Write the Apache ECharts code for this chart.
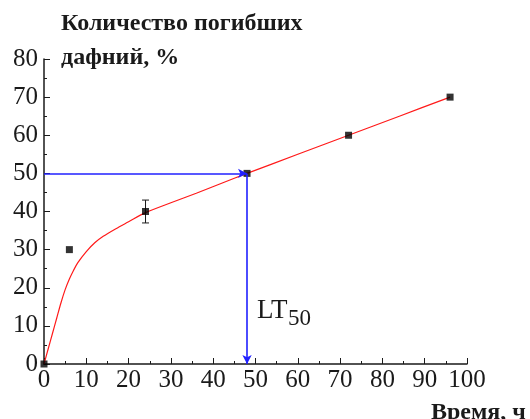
<!DOCTYPE html>
<html>
<head>
<meta charset="utf-8">
<script src="https://cdn.jsdelivr.net/npm/echarts@6/dist/echarts.min.js"></script>
<style>
  html, body { margin: 0; padding: 0; background: #fff; }
  #chart { width: 530px; height: 419px; }
</style>
</head>
<body>
<div id="chart"></div>
<script>
// Observed daphnia mortality over time
const hours = [0, 6, 24, 48, 72, 96];
const mortality = [0, 30, 40, 50, 60, 70];
const mortalityErr = [0, 0, 3, 0, 0, 0];

// Fitted curve
const fitHours =     [0, 1, 2, 3,  4,  5,    6,    7,    8,    10,   12,   14,   17,   20,   24,   30,   36,   42,   48, 60, 72, 84, 96];
const fitMortality = [0, 4, 8, 12, 16, 19.5, 22.3, 24.6, 26.6, 29.5, 31.8, 33.5, 35.5, 37.3, 39.7, 42.3, 44.8, 47.4, 50, 55, 60, 65, 70];

// LT50 read-off point
const lt50Hours = 48;
const lt50Level = 50;

const FONT = 'Liberation Serif';
const INK = '#1a1a1a';

const chart = echarts.init(document.getElementById('chart'), null, { renderer: 'canvas' });

const points = hours.map((h, i) => [h, mortality[i]]);
const errRows = hours.map((h, i) => [h, mortality[i], mortalityErr[i]]).filter(r => r[2] > 0);
const fit = fitHours.map((h, i) => [h, fitMortality[i]]);

const axisCommon = {
  axisLine: { show: true, onZero: false, lineStyle: { color: INK, width: 1.5 } },
  axisTick: { show: true, inside: true, length: 6, lineStyle: { color: INK, width: 1 } },
  minorTick: { show: true, splitNumber: 2, length: 3, lineStyle: { color: INK, width: 1 } },
  splitLine: { show: false },
  axisLabel: { color: INK, fontFamily: FONT, fontSize: 25 }
};

chart.setOption({
  animation: false,
  backgroundColor: '#fff',
  textStyle: { fontFamily: FONT },
  grid: { left: 44, right: 63, top: 59, bottom: 55, containLabel: false },
  xAxis: Object.assign({}, axisCommon, {
    type: 'value', min: 0, max: 100, interval: 10,
    axisLabel: Object.assign({}, axisCommon.axisLabel, { margin: 4 })
  }),
  yAxis: Object.assign({}, axisCommon, {
    type: 'value', min: 0, max: 80, interval: 10,
    axisLabel: Object.assign({}, axisCommon.axisLabel, { margin: 6 })
  }),
  graphic: [
    {
      type: 'text', left: 61, top: 7, silent: true,
      style: {
        text: 'Количество погибших\nдафний, %',
        fontFamily: FONT, fontWeight: 'bold', fontSize: 24,
        fill: INK, lineHeight: 34
      }
    },
    {
      type: 'text', left: 431, top: 401, silent: true,
      style: { text: 'Время, ч', fontFamily: FONT, fontWeight: 'bold', fontSize: 24, fill: INK }
    },
    {
      type: 'text', left: 257, top: 297, silent: true,
      style: { text: 'LT', fontFamily: FONT, fontSize: 27, fill: INK }
    },
    {
      type: 'text', left: 288, top: 307, silent: true,
      style: { text: '50', fontFamily: FONT, fontSize: 23, fill: INK }
    }
  ],
  series: [
    {
      name: 'fit',
      type: 'line',
      data: fit,
      smooth: 0.3,
      showSymbol: false,
      lineStyle: { color: '#ff1a1a', width: 1.2 },
      z: 2,
      markLine: {
        silent: true,
        symbol: ['none', 'arrow'],
        symbolSize: [7, 9],
        label: { show: false },
        lineStyle: { color: '#2020ff', width: 1.6, type: 'solid' },
        data: [
          [{ coord: [0, lt50Level] }, { coord: [lt50Hours, lt50Level] }],
          [{ coord: [lt50Hours, lt50Level] }, { coord: [lt50Hours, 0] }]
        ]
      }
    },
    {
      name: 'error',
      type: 'custom',
      data: errRows,
      z: 3,
      renderItem: function (params, api) {
        const x = api.value(0), y = api.value(1), e = api.value(2);
        const top = api.coord([x, y + e]);
        const bot = api.coord([x, y - e]);
        const cap = 3.5;
        const style = { stroke: INK, lineWidth: 1 };
        return {
          type: 'group',
          children: [
            { type: 'line', shape: { x1: top[0], y1: top[1], x2: bot[0], y2: bot[1] }, style },
            { type: 'line', shape: { x1: top[0] - cap, y1: top[1], x2: top[0] + cap, y2: top[1] }, style },
            { type: 'line', shape: { x1: bot[0] - cap, y1: bot[1], x2: bot[0] + cap, y2: bot[1] }, style }
          ]
        };
      }
    },
    {
      name: 'observed',
      type: 'scatter',
      data: points,
      symbol: 'rect',
      symbolSize: 7,
      itemStyle: { color: '#000' },
      z: 4
    }
  ]
});
</script>
</body>
</html>
